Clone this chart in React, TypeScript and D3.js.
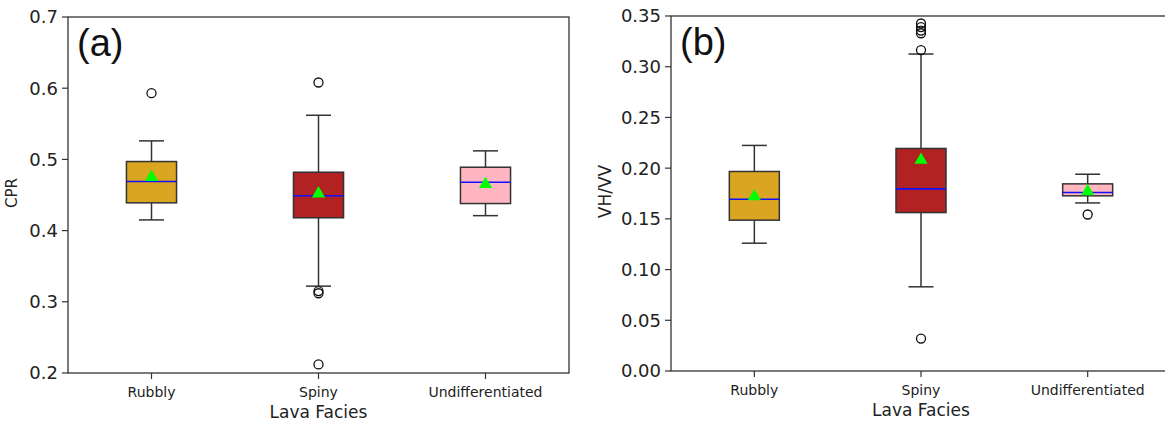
import React, { useEffect, useRef } from "react";
import * as d3 from "d3";

type BoxStats = {
  whiskerLow: number;
  q1: number;
  median: number;
  q3: number;
  whiskerHigh: number;
  mean: number;
  outliers: number[];
};

const facies = ["Rubbly", "Spiny", "Undifferentiated"];
const faciesColors = ["#DAA520", "#B22222", "#FFB6C1"];

// panel (a) CPR
const cprWhiskerLow = [0.415, 0.322, 0.421];
const cprQ1 = [0.439, 0.418, 0.438];
const cprMedian = [0.469, 0.449, 0.468];
const cprQ3 = [0.497, 0.482, 0.489];
const cprWhiskerHigh = [0.526, 0.562, 0.512];
const cprMean = [0.475, 0.452, 0.465];
const cprOutliers = [[0.593], [0.608, 0.315, 0.312, 0.212], []];
const cprTicks = [0.2, 0.3, 0.4, 0.5, 0.6, 0.7];

// panel (b) VH/VV
const vhvvWhiskerLow = [0.126, 0.083, 0.1657];
const vhvvQ1 = [0.1487, 0.1562, 0.1727];
const vhvvMedian = [0.1694, 0.1796, 0.176];
const vhvvQ3 = [0.1967, 0.2194, 0.1845];
const vhvvWhiskerHigh = [0.2224, 0.3125, 0.194];
const vhvvMean = [0.172, 0.208, 0.177];
const vhvvOutliers = [[], [0.3426, 0.3391, 0.3356, 0.333, 0.3164, 0.032], [0.1543]];
const vhvvTicks = [0, 0.05, 0.1, 0.15, 0.2, 0.25, 0.3, 0.35];

function toStats(
  lo: number[], q1: number[], med: number[], q3: number[], hi: number[], mean: number[], out: number[][]
): BoxStats[] {
  return lo.map((_, i) => ({
    whiskerLow: lo[i],
    q1: q1[i],
    median: med[i],
    q3: q3[i],
    whiskerHigh: hi[i],
    mean: mean[i],
    outliers: out[i],
  }));
}

const FONT = "DejaVu Sans, sans-serif";
const EDGE = "#333";

function drawPanel(
  svg: d3.Selection<SVGSVGElement, unknown, null, undefined>,
  opts: {
    left: number; right: number; top: number; bottom: number;
    domain: [number, number]; ticks: number[]; fmt: string;
    stats: BoxStats[]; ylabel: string; ylabelX: number; ylabelSize: number; tag: string;
  }
) {
  const { left, right, top, bottom } = opts;
  const x = d3.scaleBand().domain(facies).range([left, right]).paddingInner(0).paddingOuter(0);
  const y = d3.scaleLinear().domain(opts.domain).range([bottom, top]);
  const bw = x.bandwidth();
  const boxW = bw * 0.3;
  const capW = boxW / 2;

  const g = svg.append("g");

  // spines
  g.append("rect")
    .attr("x", left).attr("y", top)
    .attr("width", right - left).attr("height", bottom - top)
    .attr("fill", "none").attr("stroke", EDGE).attr("stroke-width", 1.3);

  // y axis
  opts.ticks.forEach((t) => {
    g.append("line")
      .attr("x1", left - 6).attr("x2", left)
      .attr("y1", y(t)).attr("y2", y(t))
      .attr("stroke", EDGE).attr("stroke-width", 1.2);
    g.append("text")
      .attr("x", left - 10).attr("y", y(t))
      .attr("dy", "0.36em").attr("text-anchor", "end")
      .attr("font-family", FONT).attr("font-size", 18).attr("fill", "#222")
      .text(d3.format(opts.fmt)(t));
  });

  // x axis
  facies.forEach((f) => {
    const cx = x(f)! + bw / 2;
    g.append("line")
      .attr("x1", cx).attr("x2", cx)
      .attr("y1", bottom).attr("y2", bottom + 6)
      .attr("stroke", EDGE).attr("stroke-width", 1.2);
    g.append("text")
      .attr("x", cx).attr("y", bottom + 24)
      .attr("text-anchor", "middle")
      .attr("font-family", FONT).attr("font-size", 14).attr("fill", "#222")
      .text(f);
  });

  g.append("text")
    .attr("x", (left + bw * 1.5)).attr("y", bottom + 45)
    .attr("text-anchor", "middle")
    .attr("font-family", FONT).attr("font-size", 17).attr("fill", "#222")
    .text("Lava Facies");

  g.append("text")
    .attr("transform", `translate(${opts.ylabelX},${(top + bottom) / 2 - 2}) rotate(-90)`)
    .attr("text-anchor", "middle")
    .attr("font-family", FONT).attr("font-size", opts.ylabelSize).attr("fill", "#222")
    .text(opts.ylabel);

  g.append("text")
    .attr("x", left + 9).attr("y", top + 39)
    .attr("font-family", "Liberation Sans, Arial, sans-serif").attr("font-size", 38).attr("fill", "#111")
    .text(opts.tag);

  // boxes
  opts.stats.forEach((s, i) => {
    const cx = x(facies[i])! + bw / 2;
    const bg = g.append("g");
    // whiskers
    bg.append("line")
      .attr("x1", cx).attr("x2", cx)
      .attr("y1", y(s.q3)).attr("y2", y(s.whiskerHigh))
      .attr("stroke", EDGE).attr("stroke-width", 1.5);
    bg.append("line")
      .attr("x1", cx).attr("x2", cx)
      .attr("y1", y(s.q1)).attr("y2", y(s.whiskerLow))
      .attr("stroke", EDGE).attr("stroke-width", 1.5);
    [s.whiskerHigh, s.whiskerLow].forEach((v) => {
      bg.append("line")
        .attr("x1", cx - capW / 2).attr("x2", cx + capW / 2)
        .attr("y1", y(v)).attr("y2", y(v))
        .attr("stroke", EDGE).attr("stroke-width", 1.5);
    });
    bg.append("rect")
      .attr("x", cx - boxW / 2).attr("y", y(s.q3))
      .attr("width", boxW).attr("height", y(s.q1) - y(s.q3))
      .attr("fill", faciesColors[i]).attr("stroke", EDGE).attr("stroke-width", 1.5);
    bg.append("line")
      .attr("x1", cx - boxW / 2).attr("x2", cx + boxW / 2)
      .attr("y1", y(s.median)).attr("y2", y(s.median))
      .attr("stroke", "#1010ff").attr("stroke-width", 1.6);
    s.outliers.forEach((o) => {
      bg.append("circle")
        .attr("cx", cx).attr("cy", y(o)).attr("r", 4.5)
        .attr("fill", "none").attr("stroke", "#111").attr("stroke-width", 1.3);
    });
    bg.append("path")
      .attr("d", d3.symbol(d3.symbolTriangle, 75)())
      .attr("transform", `translate(${cx},${y(s.mean)})`)
      .attr("fill", "#00ff00");
  });
}

export default function App() {
  const ref = useRef<SVGSVGElement>(null);

  useEffect(() => {
    const svg = d3.select(ref.current!);
    svg.selectAll("*").remove();

    drawPanel(svg, {
      left: 68, right: 569, top: 17, bottom: 373,
      domain: [0.2, 0.7], ticks: cprTicks, fmt: ".1f",
      stats: toStats(cprWhiskerLow, cprQ1, cprMedian, cprQ3, cprWhiskerHigh, cprMean, cprOutliers),
      ylabel: "CPR", ylabelX: 17, ylabelSize: 15, tag: "(a)",
    });

    drawPanel(svg, {
      left: 671, right: 1171, top: 16, bottom: 371,
      domain: [0, 0.35], ticks: vhvvTicks, fmt: ".2f",
      stats: toStats(vhvvWhiskerLow, vhvvQ1, vhvvMedian, vhvvQ3, vhvvWhiskerHigh, vhvvMean, vhvvOutliers),
      ylabel: "VH/VV", ylabelX: 611, ylabelSize: 17, tag: "(b)",
    });
  }, []);

  return (
    <svg
      ref={ref}
      width={1165}
      height={427}
      style={{ position: "absolute", left: 0, top: 0, background: "#fff" }}
    />
  );
}
